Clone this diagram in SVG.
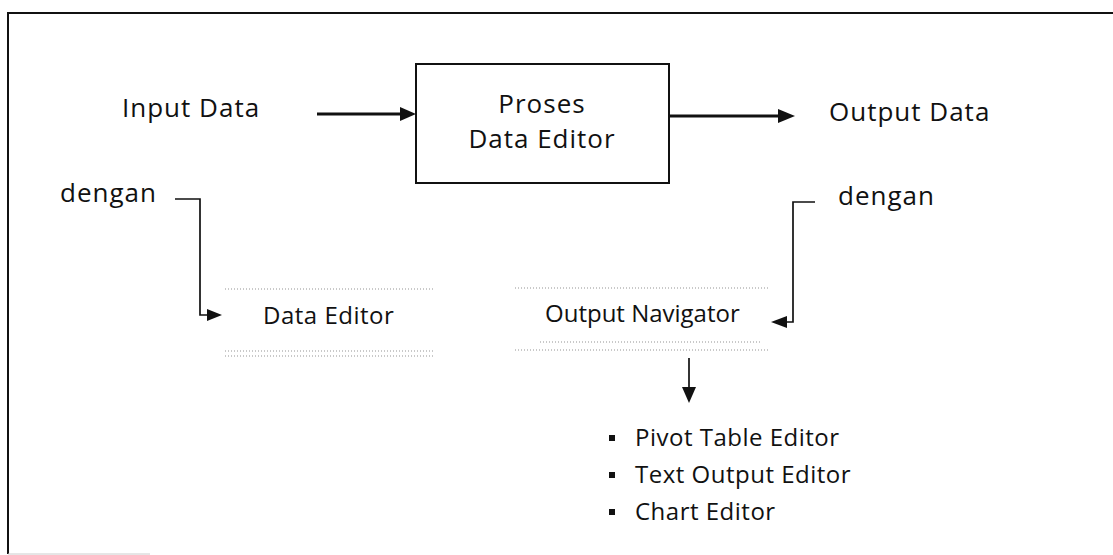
<svg xmlns="http://www.w3.org/2000/svg" width="1113" height="555" viewBox="0 0 1113 555">
<style>
  text { font-family: "Open Sans", "Liberation Sans", sans-serif; fill: #111; }
  .big { font-size: 26px; letter-spacing: 1px; }
  .mid { font-size: 24px; letter-spacing: 0.5px; }
  .thick { stroke: #111; stroke-width: 3; fill: none; }
  .thin { stroke: #111; stroke-width: 1.7; fill: none; }
  .dots { stroke: #b8b8b8; stroke-width: 1.5; stroke-dasharray: 1 2; fill: none; }
  .head { fill: #111; }
  .bullet { fill: #111; }
</style>
<rect x="0" y="0" width="1113" height="555" fill="#fff"/>
<g id="frame">
  <line x1="8" y1="13" x2="1113" y2="13" stroke="#111" stroke-width="2"/>
  <line x1="8" y1="12" x2="8" y2="554" stroke="#111" stroke-width="2"/>
  <line x1="8" y1="554" x2="150" y2="554" stroke="#ccc" stroke-width="1"/>
</g>
<g id="input-data"><text class="big" x="122" y="117">Input Data</text></g>
<g id="proses">
  <rect x="416" y="64" width="253" height="119" fill="#fff" stroke="#111" stroke-width="2"/>
  <text class="big" x="542" y="113" text-anchor="middle">Proses</text>
  <text class="big" x="542" y="148" text-anchor="middle">Data Editor</text>
</g>
<g id="output-data"><text class="big" x="829" y="121">Output Data</text></g>
<g id="dengan-left"><text class="big" x="60" y="202">dengan</text></g>
<g id="dengan-right"><text class="big" x="838" y="205">dengan</text></g>
<g id="data-editor">
  <line class="dots" x1="225" y1="289" x2="433" y2="289"/>
  <text class="mid" x="263" y="324">Data Editor</text>
  <line class="dots" x1="225" y1="351" x2="433" y2="351"/>
  <line class="dots" x1="225" y1="356" x2="433" y2="356"/>
</g>
<g id="output-navigator">
  <line class="dots" x1="515" y1="288" x2="768" y2="288"/>
  <text class="mid" x="545" y="322" style="letter-spacing:0">Output Navigator</text>
  <line class="dots" x1="540" y1="342" x2="760" y2="342"/>
  <line class="dots" x1="515" y1="350" x2="768" y2="350"/>
</g>
<g id="editors">
  <rect class="bullet" x="609" y="435" width="6" height="6"/>
  <text class="mid" x="635" y="446">Pivot Table Editor</text>
  <rect class="bullet" x="609" y="472" width="6" height="6"/>
  <text class="mid" x="635" y="483">Text Output Editor</text>
  <rect class="bullet" x="609" y="509" width="6" height="6"/>
  <text class="mid" x="635" y="520">Chart Editor</text>
</g>
<g id="connectors">
  <line class="thick" x1="317" y1="114" x2="402" y2="114"/>
  <polygon class="head" points="400,107 416,114 400,121"/>
  <line class="thick" x1="669" y1="116" x2="780" y2="116"/>
  <polygon class="head" points="778,109 795,116 778,123"/>
  <polyline class="thin" points="175,199 200,199 200,315 210,315"/>
  <polygon class="head" points="207,309 222,315 207,321"/>
  <polyline class="thin" points="815,202 793,202 793,322 784,322"/>
  <polygon class="head" points="787,316 771,322 787,328"/>
  <line class="thin" x1="689" y1="358" x2="689" y2="389"/>
  <polygon class="head" points="682,387 689,403 696,387"/>
</g>
</svg>
